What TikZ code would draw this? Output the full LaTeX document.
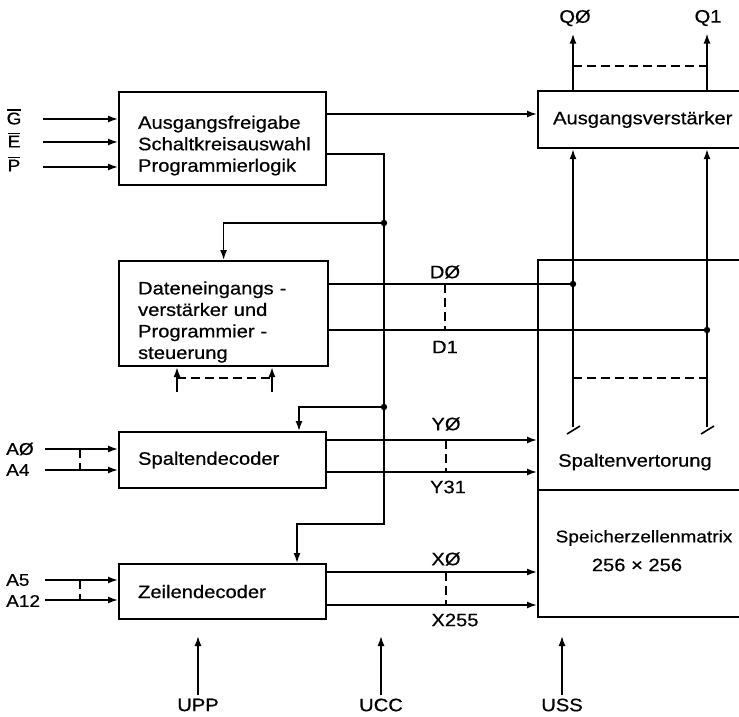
\documentclass[tikz,border=0pt]{standalone}
\usepackage{fontspec}
\setmainfont{Liberation Sans}[FakeStretch=1.12,FakeBold=0.5]
\usetikzlibrary{arrows.meta,positioning,calc}

\newcommand\ovl[1]{\vbox{\hrule height 1.3pt\kern1.8pt\hbox{#1}}}

\tikzset{
  blockbox/.style={draw, line width=2.2pt, inner xsep=19pt, align=left, anchor=north west},
  sig/.style={line width=1.6pt},
  arr/.style={sig, -{Latex[length=10pt,width=7pt]}},
  bus/.style={sig, dash pattern=on 9pt off 5pt},
  inlbl/.style={font=\fontsize{17}{20}\selectfont, inner sep=1pt},
}

\begin{document}
\begin{tikzpicture}[x=1pt,y=-1pt,font=\fontsize{18}{21.5}\selectfont]
  \useasboundingbox (0,0) rectangle (739,717);

  % Bloecke links
  \node[blockbox, minimum width=207pt, minimum height=93pt, text width=169pt] (logik) at (118,91)
    {\rule{0pt}{27pt}Ausgangsfreigabe\\Schaltkreisauswahl\\Programmierlogik};
  \node[blockbox, minimum width=209pt, minimum height=94pt, text width=171pt] (daten) at (118,260)
    {\rule{0pt}{30pt}Dateneingangs -\\verstärker und\\Programmier -\\steuerung};
  \node[blockbox, minimum width=207pt, minimum height=56pt, text width=169pt] (spalten) at (118,431)
    {Spaltendecoder};
  \node[blockbox, minimum width=207pt, minimum height=55pt, text width=169pt] (zeile) at (118,563)
    {Zeilendecoder};

  % Bloecke rechts (rechter Rand offen)
  \node[blockbox, inner xsep=15pt, minimum width=230pt, minimum height=57pt, text width=200pt] (ausgang) at (537,90)
    {Ausgangsverstärker};
  \node[draw, line width=2.2pt, anchor=north west, minimum width=230pt, minimum height=357pt] (speicher) at (537,259) {};
  \coordinate (teil) at (537,490);
  \draw[sig] (teil) -- (teil -| speicher.east);
  \node (spv) at (635,462) {Spaltenvertorung};
  \node[font=\fontsize{17}{20}\selectfont] (szm) at (644,538) {Speicherzellenmatrix};
  \node (dim) at (637,565) {256 × 256};

  % Eingaenge
  \node[inlbl] (g) at (14,117) {\ovl{G}};
  \node[inlbl] (e) at (14,140) {\ovl{E}};
  \node[inlbl] (p) at (14,164) {\ovl{P}};
  \coordinate (gin) at (43,119);
  \coordinate (ein) at (43,142);
  \coordinate (pin) at (43,167);
  \draw[arr] (gin) -- (gin -| logik.west);
  \draw[arr] (ein) -- (ein -| logik.west);
  \draw[arr] (pin) -- (pin -| logik.west);

  \node[inlbl, anchor=west] (a0) at (5,449) {AØ};
  \node[inlbl, anchor=west] (a4) at (5,470) {A4};
  \node[inlbl, anchor=west] (a5) at (5,580) {A5};
  \node[inlbl, anchor=west] (a12) at (5,601) {A12};
  \coordinate (a0in) at (45,449);
  \coordinate (a4in) at (45,470);
  \coordinate (a5in) at (45,580);
  \coordinate (a12in) at (45,600);
  \draw[arr] (a0in) -- (a0in -| spalten.west);
  \draw[arr] (a4in) -- (a4in -| spalten.west);
  \draw[arr] (a5in) -- (a5in -| zeile.west);
  \draw[arr] (a12in) -- (a12in -| zeile.west);
  \draw[bus] (80,449) -- (80,470);
  \draw[bus] (80,580) -- (80,600);

  % Freigabe zum Ausgangsverstaerker
  \coordinate (oe) at (420,114);
  \draw[arr] (oe -| logik.east) -- (oe -| ausgang.west);

  % Steuerbus
  \coordinate (bus0) at (384,154);
  \coordinate (b1) at (384,223);
  \coordinate (b2) at (384,407);
  \coordinate (b3) at (384,524);
  \coordinate (sk) at (299,407);
  \coordinate (zk) at (297,524);
  \draw[arr] (bus0 -| logik.east) -- (bus0) -- (b3) -- (zk) -- (zk |- zeile.north);
  \draw[arr] (b1) -| (daten.north);
  \draw[arr] (b2) -- (sk) -- (sk |- spalten.north);
  \fill (b1) circle (3.2pt);
  \fill (b2) circle (3.2pt);

  % Programmiereingaenge Daten
  \coordinate (p0) at (177,392);
  \coordinate (p1) at (272,392);
  \draw[arr] (p0) -- (p0 |- daten.south);
  \draw[arr] (p1) -- (p1 |- daten.south);
  \coordinate (pd) at (177,378);
  \draw[bus] (pd) -- (pd -| p1);

  % Spaltenleitungen
  \coordinate (s0) at (573,427);
  \coordinate (s1) at (707,427);
  \draw[arr] (s0) -- (s0 |- ausgang.south);
  \draw[arr] (s1) -- (s1 |- ausgang.south);
  \draw[sig] ($(s0)+(-6,7)$) -- ($(s0)+(7,-1)$);
  \draw[sig] ($(s1)+(-6,7)$) -- ($(s1)+(7,-1)$);
  \coordinate (sd) at (573,378);
  \draw[bus] (sd) -- (sd -| s1);

  % Ausgaenge
  \node (q0) at (575,18) {QØ};
  \node (q1) at (708,18) {Q1};
  \draw[arr, shorten >=4pt] (s0 |- ausgang.north) -- (s0 |- q0.south);
  \draw[arr, shorten >=4pt] (s1 |- ausgang.north) -- (s1 |- q1.south);
  \coordinate (qd) at (573,66);
  \draw[bus] (qd) -- (qd -| s1);

  % Datenleitungen
  \coordinate (d0) at (573,284);
  \coordinate (d1) at (707,330);
  \draw[sig] (d0 -| daten.east) -- (d0);
  \draw[sig] (d1 -| daten.east) -- (d1);
  \fill (d0) circle (3.2pt);
  \fill (d1) circle (3.2pt);
  \draw[bus] (445,284) -- (445,330);
  \node (dl0) at (445,272) {DØ};
  \node (dl1) at (445,347) {D1};

  % Spaltenauswahl
  \coordinate (y0) at (446,440);
  \coordinate (y1) at (446,472);
  \draw[arr] (y0 -| spalten.east) -- (y0 -| speicher.west);
  \draw[arr] (y1 -| spalten.east) -- (y1 -| speicher.west);
  \draw[bus] (y0) -- (y1);
  \node (yl0) at (446,424) {YØ};
  \node (yl1) at (448,487) {Y31};

  % Zeilenauswahl
  \coordinate (x0) at (446,572);
  \coordinate (x1) at (446,605);
  \draw[arr] (x0 -| zeile.east) -- (x0 -| speicher.west);
  \draw[arr] (x1 -| zeile.east) -- (x1 -| speicher.west);
  \draw[bus] (x0) -- (x1);
  \node (xl0) at (446,559) {XØ};
  \node (xl1) at (455,620) {X255};

  % Versorgung
  \node (upp) at (198,705) {UPP};
  \node (ucc) at (381,705) {UCC};
  \node (uss) at (562,705) {USS};
  \coordinate (upptip) at (198,636);
  \coordinate (ucctip) at (381,636);
  \coordinate (usstip) at (562,636);
  \draw[arr] (upp.north) -- (upptip);
  \draw[arr] (ucc.north) -- (ucctip);
  \draw[arr] (uss.north) -- (usstip);
\end{tikzpicture}
\end{document}
